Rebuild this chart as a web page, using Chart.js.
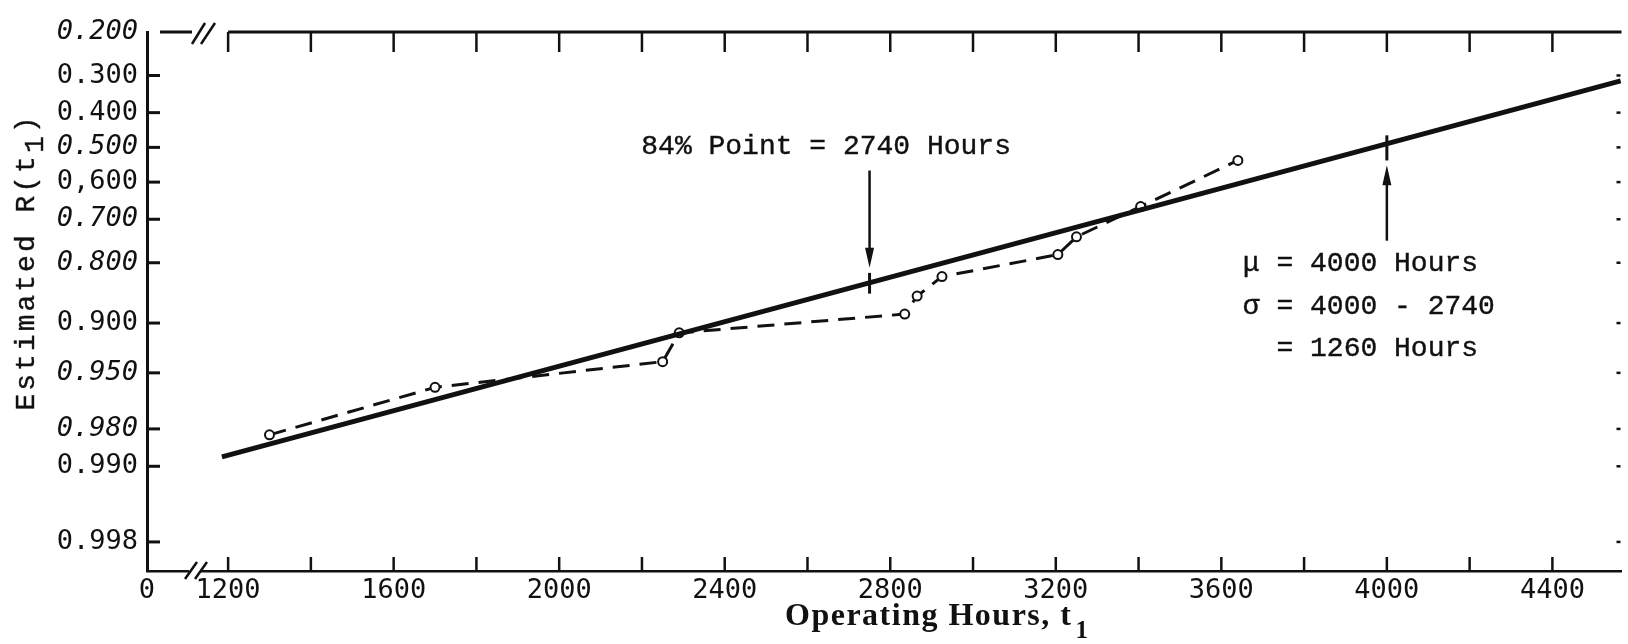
<!DOCTYPE html>
<html>
<head>
<meta charset="utf-8">
<title>Estimated R(t1) vs Operating Hours</title>
<script src="https://cdn.jsdelivr.net/npm/chart.js@4.4.1/dist/chart.umd.min.js"></script>
<style>
  html, body { margin: 0; padding: 0; background: #fff; }
  canvas { display: block; }
</style>
</head>
<body>
<canvas id="reliabilityChart" width="1628" height="644"></canvas>
<script>
// Reliability plot on normal probability paper

// Observed points (dashed line)
const hours = [1300, 1700, 2250, 2290, 2835, 2865, 2925, 3205, 3250, 3405, 3640];
const reliability = [0.982, 0.960, 0.941, 0.912, 0.888, 0.861, 0.827, 0.783, 0.743, 0.667, 0.538];

// Fitted straight line (solid), read at its two ends
const fitHours = [1185, 4565];
const fitReliability = [0.988, 0.314];

// Axes
const xMin = 1004;
const xMax = 4567;
const xTicks = [1200, 1400, 1600, 1800, 2000, 2200, 2400, 2600, 2800, 3000, 3200, 3400, 3600, 3800, 4000, 4200, 4400];
const yMin = 0.2;
const yMax = 0.999;
const yTicks = [0.2, 0.3, 0.4, 0.5, 0.6, 0.7, 0.8, 0.9, 0.95, 0.98, 0.99, 0.998];
const yTickLabels = ['0.200', '0.300', '0.400', '0.500', '0,600', '0.700', '0.800', '0.900', '0.950', '0.980', '0.990', '0.998'];

// Annotation values
const pointLabel = '84% Point = 2740 Hours';
const pointHours = 2750;
const muHours = 4000;
const muLines = ['\u03bc = 4000 Hours', '\u03c3 = 4000 - 2740', '  = 1260 Hours'];

const ink = '#111';

// inverse normal CDF (Acklam)
function probit(p) {
    const a = [-39.69683028665376, 220.9460984245205, -275.9285104469687, 138.3577518672690, -30.66479806614716, 2.506628277459239];
    const b = [-54.47609879822406, 161.5858368580409, -155.6989798598866, 66.80131188771972, -13.28068155288572];
    const c = [-0.007784894002430293, -0.3223964580411365, -2.400758277161838, -2.549732539343734, 4.374664141464968, 2.938163982698783];
    const d = [0.007784695709041462, 0.3224671290700398, 2.445134137142996, 3.754408661907416];
    const pl = 0.02425;
    let q, r;
    if (p < pl) {
        q = Math.sqrt(-2 * Math.log(p));
        return (((((c[0] * q + c[1]) * q + c[2]) * q + c[3]) * q + c[4]) * q + c[5]) / ((((d[0] * q + d[1]) * q + d[2]) * q + d[3]) * q + 1);
    }
    if (p > 1 - pl) {
        q = Math.sqrt(-2 * Math.log(1 - p));
        return -(((((c[0] * q + c[1]) * q + c[2]) * q + c[3]) * q + c[4]) * q + c[5]) / ((((d[0] * q + d[1]) * q + d[2]) * q + d[3]) * q + 1);
    }
    q = p - 0.5;
    r = q * q;
    return (((((a[0] * r + a[1]) * r + a[2]) * r + a[3]) * r + a[4]) * r + a[5]) * q / (((((b[0] * r + b[1]) * r + b[2]) * r + b[3]) * r + b[4]) * r + 1);
}

function normCdf(z) {
    const t = 1 / (1 + 0.2316419 * Math.abs(z));
    const poly = t * (0.319381530 + t * (-0.356563782 + t * (1.781477937 + t * (-1.821255978 + t * 1.330274429))));
    const p = 1 - Math.exp(-z * z / 2) / Math.sqrt(2 * Math.PI) * poly;
    return z >= 0 ? p : 1 - p;
}

// Normal probability scale for the reliability axis
class ProbabilityScale extends Chart.Scale {
    static id = 'probability';
    static defaults = {};

    determineDataLimits() {
        this.min = this.options.min;
        this.max = this.options.max;
    }
    buildTicks() {
        return yTicks.map(v => ({ value: v }));
    }
    getLabelForValue(value) {
        return String(value);
    }
    configure() {
        super.configure();
        this._zStart = probit(this.min);
        this._zRange = probit(this.max) - this._zStart;
    }
    getPixelForValue(value) {
        return this.getPixelForDecimal((probit(value) - this._zStart) / this._zRange);
    }
    getValueForPixel(pixel) {
        return normCdf(this._zStart + this.getDecimalForPixel(pixel) * this._zRange);
    }
}
Chart.register(ProbabilityScale);

const italicTicks = new Set(['0.200', '0.500', '0.700', '0.800', '0.950', '0.980']);

function line(ctx, x1, y1, x2, y2) {
    ctx.beginPath();
    ctx.moveTo(x1, y1);
    ctx.lineTo(x2, y2);
    ctx.stroke();
}

function arrowHead(ctx, x, tipY, dir) {
    // dir = 1 pointing down, -1 pointing up
    ctx.beginPath();
    ctx.moveTo(x, tipY);
    ctx.lineTo(x - 4.5, tipY - dir * 20);
    ctx.lineTo(x + 4.5, tipY - dir * 20);
    ctx.closePath();
    ctx.fill();
}

function typeText(ctx, text, x, y) {
    ctx.fillText(text, x, y);
    ctx.strokeText(text, x, y);
}

const decorations = {
    id: 'decorations',
    afterDraw(chart) {
        const { ctx, chartArea: a, scales: { x, y } } = chart;
        ctx.save();
        ctx.strokeStyle = ink;
        ctx.fillStyle = ink;
        ctx.lineCap = 'butt';

        // inward ticks on the left axis, dots on the right edge
        y.ticks.forEach((t, i) => {
            if (i === 0) return;
            const py = y.getPixelForTick(i);
            ctx.lineWidth = 3;
            line(ctx, a.left, py, a.left + 13, py);
            ctx.lineWidth = 2.5;
            line(ctx, a.right - 5, py, a.right - 1, py);
        });

        // inward ticks on bottom and top axes
        x.ticks.forEach((t, i) => {
            if (t.value === xMin) return;
            const px = x.getPixelForTick(i);
            ctx.lineWidth = 2.5;
            line(ctx, px, a.bottom, px, a.bottom - 14);
            line(ctx, px, a.top, px, a.top + 20);
        });

        // top axis with break
        const x1200 = x.getPixelForValue(1200);
        ctx.lineWidth = 3;
        line(ctx, a.left + 13, a.top, a.left + 45, a.top);
        line(ctx, x1200, a.top, a.right, a.top);
        ctx.lineWidth = 2.5;
        line(ctx, a.left + 45, a.top + 12, a.left + 58, a.top - 9);
        line(ctx, a.left + 54, a.top + 12, a.left + 68, a.top - 9);

        // bottom axis break
        ctx.fillStyle = '#fff';
        ctx.fillRect(a.left + 42, a.bottom - 3, 12, 6);
        ctx.fillStyle = ink;
        ctx.lineWidth = 2.5;
        line(ctx, a.left + 38, a.bottom + 8, a.left + 50, a.bottom - 9);
        line(ctx, a.left + 48, a.bottom + 8, a.left + 60, a.bottom - 9);

        // 84% point arrow (pointing down) and mark on fitted line
        const px84 = x.getPixelForValue(pointHours);
        const tip84 = y.getPixelForValue(0.81);
        ctx.lineWidth = 2.5;
        line(ctx, px84, y.getPixelForValue(0.567), px84, tip84 - 10);
        arrowHead(ctx, px84, tip84, 1);
        ctx.lineWidth = 3;
        line(ctx, px84, y.getPixelForValue(0.82), px84, y.getPixelForValue(0.857));

        // mean arrow (pointing up) and mark on fitted line
        const pxMu = x.getPixelForValue(muHours);
        const tipMu = y.getPixelForValue(0.552);
        ctx.lineWidth = 2.5;
        line(ctx, pxMu, y.getPixelForValue(0.752), pxMu, tipMu + 10);
        arrowHead(ctx, pxMu, tipMu, -1);
        ctx.lineWidth = 3;
        line(ctx, pxMu, y.getPixelForValue(0.465), pxMu, y.getPixelForValue(0.538));

        // annotation text
        ctx.font = '28px "Liberation Mono", monospace';
        ctx.lineWidth = 0.4;
        ctx.textBaseline = 'middle';
        ctx.textAlign = 'center';
        typeText(ctx, pointLabel, x.getPixelForValue(2645), y.getPixelForValue(0.497));
        ctx.textAlign = 'left';
        const muLeft = x.getPixelForValue(3652);
        const muTop = y.getPixelForValue(0.802);
        muLines.forEach((s, i) => typeText(ctx, s, muLeft, muTop + i * 42.5));

        // y axis title, rotated, with lowered subscript
        ctx.save();
        ctx.translate(27, 262);
        ctx.rotate(-Math.PI / 2);
        ctx.font = '28px "Liberation Mono", monospace';
        ctx.letterSpacing = '3px';
        const yMain = 'Estimated R(t';
        const wMain = ctx.measureText(yMain).width;
        const wSub = ctx.measureText('1').width;
        const wEnd = ctx.measureText(')').width;
        let u = -(wMain + wSub + wEnd) / 2;
        ctx.textAlign = 'left';
        typeText(ctx, yMain, u, 0);
        u += wMain;
        typeText(ctx, '1', u, 9);
        u += wSub;
        typeText(ctx, ')', u, 0);
        ctx.restore();

        // x axis title
        ctx.font = 'bold 32px "Liberation Serif", serif';
        ctx.letterSpacing = '1.5px';
        ctx.textAlign = 'left';
        ctx.textBaseline = 'middle';
        const xMain = 'Operating Hours, t';
        ctx.fillText(xMain, 785, 617);
        const wx = ctx.measureText(xMain).width;
        ctx.font = 'bold 25px "Liberation Serif", serif';
        ctx.fillText('1', 785 + wx + 3, 632);
        ctx.restore();
    }
};

document.addEventListener('DOMContentLoaded', function() {
    const ctx = document.getElementById('reliabilityChart');

    new Chart(ctx, {
        type: 'line',
        data: {
            datasets: [{
                label: 'Fitted line',
                data: fitHours.map((h, i) => ({ x: h, y: fitReliability[i] })),
                borderColor: ink,
                borderWidth: 5,
                pointRadius: 0,
                fill: false,
                tension: 0
            }, {
                label: 'Estimated R(t1)',
                data: hours.map((h, i) => ({ x: h, y: reliability[i] })),
                borderColor: ink,
                borderWidth: 3,
                borderDash: [17, 10],
                pointRadius: 4.5,
                pointBorderWidth: 2,
                pointBackgroundColor: '#fff',
                pointBorderColor: ink,
                fill: false,
                tension: 0
            }]
        },
        options: {
            responsive: false,
            devicePixelRatio: 1,
            animation: false,
            layout: {
                padding: { left: 0, top: 32, right: 6, bottom: 0 }
            },
            plugins: {
                legend: { display: false },
                tooltip: { enabled: false }
            },
            scales: {
                x: {
                    type: 'linear',
                    min: xMin,
                    max: xMax,
                    afterBuildTicks: function(scale) {
                        scale.ticks = [xMin].concat(xTicks).map(v => ({ value: v }));
                    },
                    afterFit: function(scale) {
                        scale.height = 73;
                    },
                    grid: { display: false, drawTicks: false },
                    border: { display: true, color: ink, width: 2.5 },
                    ticks: {
                        autoSkip: false,
                        maxRotation: 0,
                        padding: 4,
                        color: ink,
                        font: { family: '"DejaVu Sans Mono", monospace', size: 27 },
                        callback: function(value) {
                            if (value === xMin) return '0';
                            return value % 400 === 0 ? String(value) : '';
                        }
                    }
                },
                y: {
                    type: 'probability',
                    min: yMin,
                    max: yMax,
                    reverse: true,
                    afterFit: function(scale) {
                        scale.width = 147;
                    },
                    grid: { display: false, drawTicks: false },
                    border: { display: true, color: ink, width: 3 },
                    ticks: {
                        autoSkip: false,
                        padding: 9,
                        color: ink,
                        font: function(context) {
                            const label = yTickLabels[context.index];
                            return {
                                family: '"DejaVu Sans Mono", monospace',
                                size: 27,
                                style: italicTicks.has(label) ? 'italic' : 'normal'
                            };
                        },
                        callback: function(value, index) {
                            return yTickLabels[index];
                        }
                    }
                }
            }
        },
        plugins: [decorations]
    });
});
</script>
</body>
</html>
